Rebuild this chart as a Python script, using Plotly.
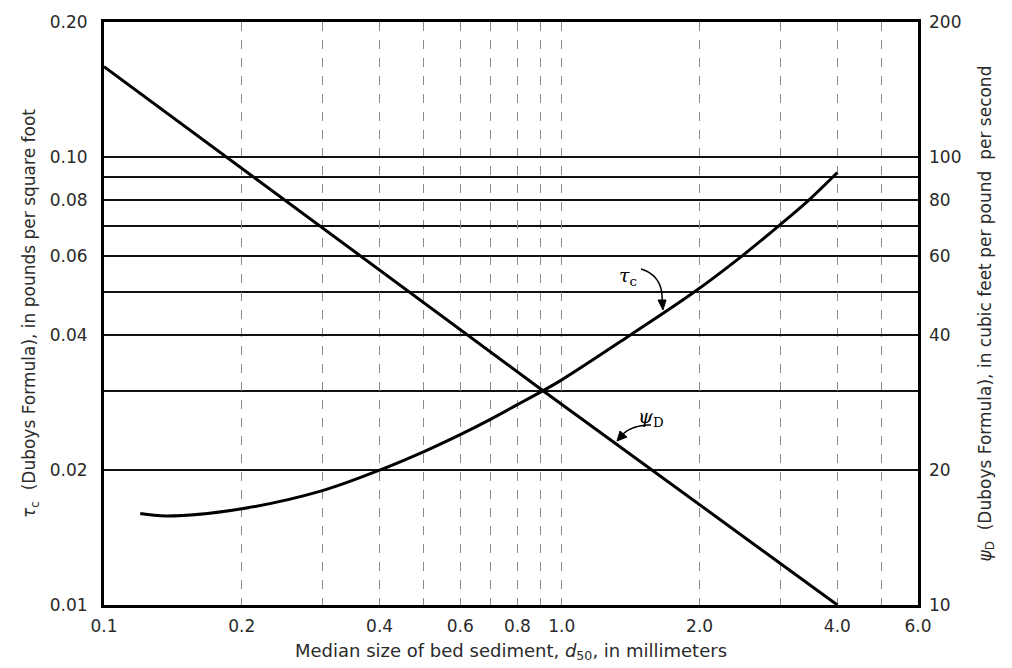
import plotly.graph_objects as go
import numpy as np

# ---- data ----
tau_d = [0.12, 0.137, 0.2, 0.3, 0.4, 0.5, 0.6, 0.7, 0.8, 0.9, 1.0, 1.41, 1.95, 2.47, 2.97, 3.46, 4.0]
tau_c = [0.0160, 0.0158, 0.0164, 0.0180, 0.0200, 0.0220, 0.0240, 0.0260, 0.0280, 0.0299, 0.0318,
         0.040, 0.050, 0.060, 0.070, 0.080, 0.0923]
psi_d_x = [0.1, 0.913, 4.0]
psi_d = [159, 30, 10]

x_ticks = [0.1, 0.2, 0.4, 0.6, 0.8, 1.0, 2.0, 4.0, 6.0]
x_ticktext = ["0.1", "0.2", "0.4", "0.6", "0.8", "1.0", "2.0", "4.0", "6.0"]
x_minor = [0.3, 0.5, 0.7, 0.9, 3.0, 5.0]
y_ticks = [0.01, 0.02, 0.04, 0.06, 0.08, 0.10, 0.20]
y_ticktext = ["0.01", "0.02", "0.04", "0.06", "0.08", "0.10", "0.20"]
y_minor = [0.03, 0.05, 0.07, 0.09]
y2_ticks = [10, 20, 40, 60, 80, 100, 200]
y2_ticktext = ["10", "20", "40", "60", "80", "100", "200"]

# page body has an 8px margin
OFF = 8
W, H = 1004, 660
ML, MR, MT, MB = 96, 94, 14, 63
PW, PH = W - ML - MR, H - MT - MB


def P(X, Y):
    # screen pixel -> paper coords
    return (X - OFF - ML) / PW, (H - MB - (Y - OFF)) / PH


FONT = "DejaVu Sans"
TXT = "#2a2a2a"

fig = go.Figure()
fig.add_trace(go.Scatter(x=tau_d, y=tau_c, mode="lines",
                         line=dict(color="black", width=3, shape="spline", smoothing=1),
                         showlegend=False, hoverinfo="skip"))
fig.add_trace(go.Scatter(x=psi_d_x, y=psi_d, mode="lines", line=dict(color="black", width=3),
                         yaxis="y2", showlegend=False, hoverinfo="skip"))

fig.update_layout(
    width=W, height=H, autosize=False,
    margin=dict(l=ML, r=MR, t=MT, b=MB),
    paper_bgcolor="white", plot_bgcolor="white",
    font=dict(family=FONT, color=TXT, size=17),
    xaxis=dict(type="log", range=[-1, np.log10(6.0)], tickvals=x_ticks, ticktext=x_ticktext,
               showgrid=True, gridcolor="#8a8a8a", gridwidth=1, griddash="dash",
               minor=dict(tickvals=x_minor, showgrid=True, gridcolor="#8a8a8a", gridwidth=1, griddash="dash",
                          ticks=""),
               showline=True, linecolor="black", linewidth=3, mirror=True, ticks="",
               ticklabelstandoff=4, zeroline=False, automargin=False,
               title=dict(text="Median size of bed sediment, <i>d</i><sub>50</sub>, in millimeters",
                          font=dict(size=18, color=TXT), standoff=9)),
    yaxis=dict(type="log", range=[-2, np.log10(0.2)], tickvals=y_ticks, ticktext=y_ticktext,
               showgrid=True, gridcolor="#111", gridwidth=2,
               minor=dict(tickvals=y_minor, showgrid=True, gridcolor="#111", gridwidth=2, ticks=""),
               showline=True, linecolor="black", linewidth=3, mirror=True, ticks="",
               ticklabelstandoff=10, zeroline=False, automargin=False,
               title=dict(text="<i>τ</i><sub>c</sub>  (Duboys Formula), in pounds per square foot",
                          font=dict(size=17, color=TXT), standoff=10)),
    yaxis2=dict(type="log", range=[1, np.log10(200)], overlaying="y", side="right",
                tickvals=y2_ticks, ticktext=y2_ticktext, showgrid=False, showline=False,
                ticks="", ticklabelstandoff=10, zeroline=False, automargin=False,
                title=dict(text="<i>ψ</i><sub>D</sub>  (Duboys Formula), in cubic feet per pound  per second",
                           font=dict(size=17, color=TXT), standoff=18)),
)

# curve labels
x1, y1 = P(628, 276)
fig.add_annotation(x=x1, y=y1, xref="paper", yref="paper", text="<i>τ</i><sub>c</sub>",
                   showarrow=False, font=dict(size=19, color="black", family="DejaVu Serif"))
x2, y2 = P(666, 432)
fig.add_annotation(x=x2, y=y2, xref="paper", yref="paper", text="<i>ψ</i><sub>D</sub>",
                   showarrow=False, font=dict(size=19, color="black", family="DejaVu Serif"))


def seg(pts):
    s = ""
    for i, (X, Y) in enumerate(pts):
        a, b = P(X, Y)
        s += ("M" if i == 0 else "L") + f"{a:.5f},{b:.5f} "
    return s


t = np.linspace(0, 1, 20)
# curved leader for tau_c
p0, pc, p1 = np.array([641, 269]), np.array([664, 276]), np.array([662, 303])
pts = [tuple((1 - u) ** 2 * p0 + 2 * (1 - u) * u * pc + u ** 2 * p1) for u in t]
fig.add_shape(type="path", xref="paper", yref="paper", path=seg(pts), line=dict(color="black", width=1.5))
fig.add_shape(type="path", xref="paper", yref="paper",
              path=seg([(658, 300), (663, 310), (666, 300)]) + "Z", fillcolor="black",
              line=dict(color="black", width=1))

# curved leader for psi_D
p0, pc, p1 = np.array([651, 425]), np.array([632, 425]), np.array([622, 435])
pts = [tuple((1 - u) ** 2 * p0 + 2 * (1 - u) * u * pc + u ** 2 * p1) for u in t]
fig.add_shape(type="path", xref="paper", yref="paper", path=seg(pts), line=dict(color="black", width=1.5))
fig.add_shape(type="path", xref="paper", yref="paper",
              path=seg([(620, 431), (617, 441), (627, 437)]) + "Z", fillcolor="black",
              line=dict(color="black", width=1))

fig.write_html("out.html")
